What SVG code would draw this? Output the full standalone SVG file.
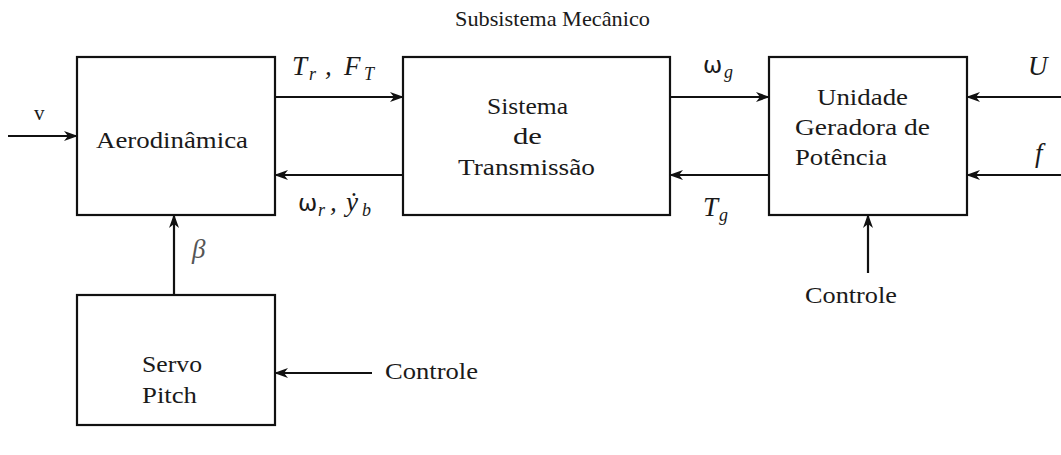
<svg xmlns="http://www.w3.org/2000/svg" width="1061" height="455" viewBox="0 0 1061 455">
<defs>
<style>
.box{fill:#fff;stroke:#111;stroke-width:2.2}
.ln{fill:none;stroke:#111;stroke-width:2.2;marker-end:url(#ah)}
.t{font-family:"Liberation Serif","DejaVu Serif",serif;font-size:23px;fill:#1a1a1a}
.m{font-family:"Liberation Serif","DejaVu Serif",serif;font-style:italic;font-size:27px;fill:#1a1a1a}
.s{font-size:18px;font-style:italic}
.g{font-family:"DejaVu Sans",sans-serif;font-style:normal;font-size:23px}
</style>
<marker id="ah" viewBox="0 0 14 10" refX="13" refY="5" markerWidth="14" markerHeight="10" markerUnits="userSpaceOnUse" orient="auto">
<path d="M0,0 L14,5 L0,10 L4,5 Z" fill="#111"/>
</marker>
</defs>
<rect width="1061" height="455" fill="#fff"/>
<text class="t" x="455" y="26" style="font-size:21px" textLength="195" lengthAdjust="spacingAndGlyphs">Subsistema Mecânico</text>
<g id="aero"><rect class="box" x="77" y="57" width="198" height="158"/><text class="t" x="96" y="148" textLength="152" lengthAdjust="spacingAndGlyphs">Aerodinâmica</text></g>
<g id="servo"><rect class="box" x="77" y="295" width="198" height="130"/><text class="t" x="142" y="372" textLength="60" lengthAdjust="spacingAndGlyphs">Servo</text><text class="t" x="142" y="403" textLength="55" lengthAdjust="spacingAndGlyphs">Pitch</text></g>
<g id="trans"><rect class="box" x="403" y="57" width="267" height="158"/><text class="t" x="487" y="114" textLength="81" lengthAdjust="spacingAndGlyphs">Sistema</text><text class="t" x="513" y="144" textLength="29" lengthAdjust="spacingAndGlyphs">de</text><text class="t" x="458" y="175" textLength="137" lengthAdjust="spacingAndGlyphs">Transmissão</text></g>
<g id="unid"><rect class="box" x="769" y="57" width="198" height="158"/><text class="t" x="817" y="105" textLength="91" lengthAdjust="spacingAndGlyphs">Unidade</text><text class="t" x="795" y="135" textLength="135" lengthAdjust="spacingAndGlyphs">Geradora de</text><text class="t" x="795" y="165" textLength="92" lengthAdjust="spacingAndGlyphs">Potência</text></g>
<g id="connectors">
<line class="ln" x1="8" y1="136" x2="77" y2="136"/>
<line class="ln" x1="275" y1="97" x2="403" y2="97"/>
<line class="ln" x1="403" y1="175" x2="275" y2="175"/>
<line class="ln" x1="670" y1="97" x2="769" y2="97"/>
<line class="ln" x1="769" y1="175" x2="670" y2="175"/>
<line class="ln" x1="1061" y1="97" x2="967" y2="97"/>
<line class="ln" x1="1061" y1="175" x2="967" y2="175"/>
<line class="ln" x1="174" y1="295" x2="174" y2="215"/>
<line class="ln" x1="372" y1="373" x2="275" y2="373"/>
<line class="ln" x1="868" y1="273" x2="868" y2="215"/>
</g>
<g id="labels">
<text class="t" x="34" y="120" style="font-size:21px">v</text>
<text class="m" y="75"><tspan x="292">T</tspan><tspan class="s" x="309" dy="5">r</tspan><tspan x="325" dy="-5">,</tspan><tspan x="344">F</tspan><tspan class="s" x="364" dy="5">T</tspan></text>
<text class="m" y="211"><tspan class="g" x="298">ω</tspan><tspan class="s" x="318" dy="5">r</tspan><tspan x="330" dy="-5">,</tspan><tspan x="346">ẏ</tspan><tspan class="s" x="362" dy="5">b</tspan></text>
<text class="m" y="73"><tspan class="g" x="703">ω</tspan><tspan class="s" x="724" dy="5">g</tspan></text>
<text class="m" y="216"><tspan x="703">T</tspan><tspan class="s" x="719" dy="5">g</tspan></text>
<text class="m" x="1028" y="75">U</text>
<text class="m" x="1035" y="162">f</text>
<text class="m" x="192" y="258" style="fill:#555">β</text>
<text class="t" x="385" y="379" textLength="93" lengthAdjust="spacingAndGlyphs">Controle</text>
<text class="t" x="805" y="303" textLength="92" lengthAdjust="spacingAndGlyphs">Controle</text>
</g>
</svg>
